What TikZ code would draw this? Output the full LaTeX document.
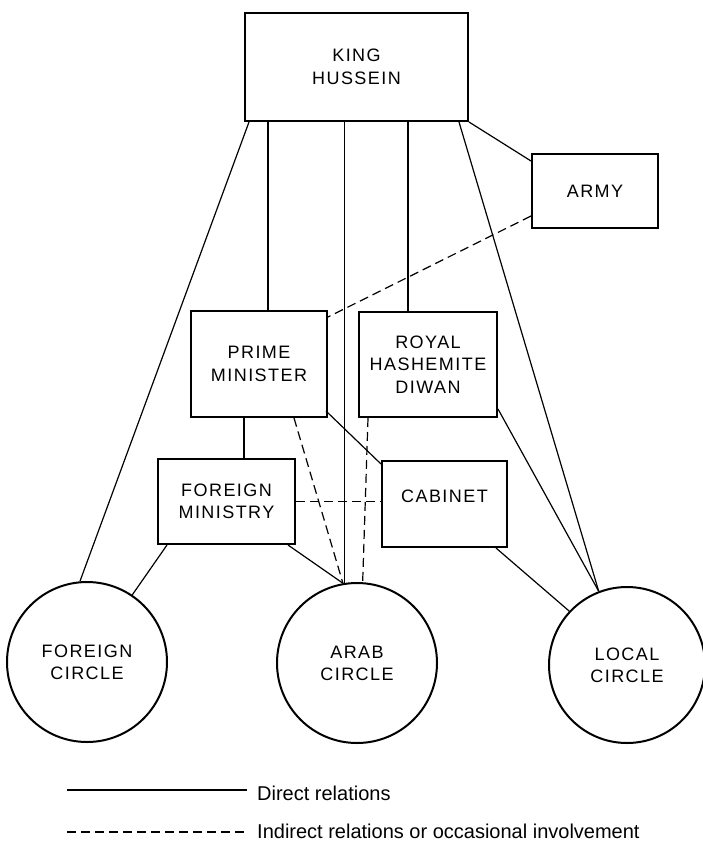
\documentclass[tikz,border=0pt]{standalone}
\usepackage{fontspec}
\setmainfont{Liberation Sans}
\newfontfamily\boxfont[LetterSpace=8]{Liberation Sans}
\usetikzlibrary{calc}
\begin{document}
\begin{tikzpicture}[x=1pt,y=-1pt,
  box/.style={draw, line width=2pt, rectangle, inner sep=0pt, align=center,
    font=\boxfont\fontsize{18}{22.5}\selectfont},
  circ/.style={draw, line width=2pt, circle, inner sep=0pt, align=center,
    font=\boxfont\fontsize{18}{22}\selectfont},
  rel/.style={line width=1.2pt},
  ind/.style={line width=1.2pt, dash pattern=on 9pt off 5pt},
  leg/.style={font=\fontsize{20}{24}\selectfont, anchor=base west, inner sep=0pt}]
\useasboundingbox (0,0) rectangle (702,842);

% boxes
\node[box, minimum width=223pt, minimum height=108pt] (K) at (356.5,67) {KING\\HUSSEIN};
\node[box, minimum width=126pt, minimum height=74pt] (A) at (595,191) {ARMY};
\node[box, minimum width=136pt, minimum height=106pt] (PM) at (259,364) {PRIME\\MINISTER};
\node[box, minimum width=138pt, minimum height=105pt] (D) at (428,364.5) {ROYAL\\HASHEMITE\\DIWAN};
\node[box, minimum width=137pt, minimum height=85pt] (FM) at (226.5,501.5) {FOREIGN\\MINISTRY};
\node[box, minimum width=125pt, minimum height=86pt] (C) at (444.5,504) {\raisebox{16pt}{CABINET}};

% circles
\node[circ, minimum size=160pt] (FC) at (87,662) {FOREIGN\\CIRCLE};
\node[circ, minimum size=160pt] (AC) at (357,663) {ARAB\\CIRCLE};
\node[circ, minimum size=156pt] (LC) at (627,665) {LOCAL\\CIRCLE};

% helper coordinates
\coordinate (kp) at ($(PM.north)+(9,0)$);
\coordinate (kd) at ($(D.north)+(-20,0)$);
\coordinate (pf) at ($(PM.south)+(-15,0)$);

% direct relations
\draw[rel] ($(K.south west)+(5,0)$) -- (FC.95);
\draw[rel] (kp) -- (kp |- K.south);
\draw[rel] (AC.99) -- (AC.99 |- K.south);
\draw[rel] (kd) -- (kd |- K.south);
\draw[rel] ($(K.south east)+(-10,0)$) -- (LC.111);
\draw[rel] (K.south east) -- ($(A.north west)+(0,8)$);
\draw[rel] ($(D.south east)+(0,-9)$) -- (LC.111);
\draw[rel] (pf) -- (pf |- FM.north);
\draw[rel] ($(PM.south east)+(-2,-7)$) -- ($(C.north west)+(0,4)$);
\draw[rel] ($(FM.south west)+(10,0)$) -- (FC.56);
\draw[rel] ($(FM.south east)+(-8,0)$) -- (AC.100);
\draw[rel] ($(C.south east)+(-12,0)$) -- (LC.137);

% indirect relations
\draw[ind] ($(A.south west)+(0,-13)$) -- ($(PM.north east)+(0,7)$);
\draw[ind] ($(PM.south east)+(-34,0)$) -- (AC.100);
\draw[ind] ($(D.south west)+(10,0)$) -- (AC.86);
\draw[ind] (FM.east) -- (FM.east -| C.west);

% legend
\coordinate (s1) at (67,790);
\coordinate (s2) at (247,790);
\coordinate (d1) at (67,832);
\coordinate (d2) at (247,832);
\draw[rel] (s1) -- (s2);
\draw[ind] (d1) -- (d2);
\node[leg] (t1) at (257,800) {Direct relations};
\node[leg] (t2) at (257,838) {Indirect relations or occasional involvement};
\end{tikzpicture}
\end{document}
